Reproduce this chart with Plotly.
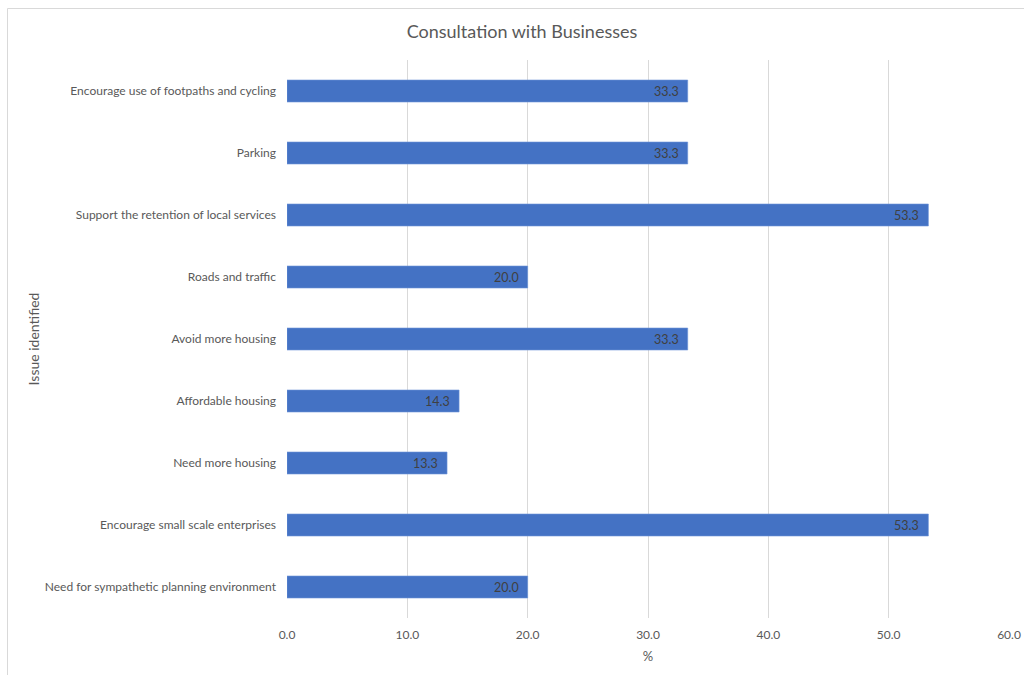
import plotly.graph_objects as go

# Issues raised during the business consultation (bottom to top)
issues = [
    "Need for sympathetic planning environment",
    "Encourage small scale enterprises",
    "Need more housing",
    "Affordable housing",
    "Avoid more housing",
    "Roads and traffic",
    "Support the retention of local services",
    "Parking",
    "Encourage use of footpaths and cycling",
]
percent = [20.0, 53.3, 13.3, 14.3, 33.3, 20.0, 53.3, 33.3, 33.3]

FONT = "Lato, 'Open Sans', sans-serif"
GREY = "#595959"

fig = go.Figure(
    go.Bar(
        x=percent,
        y=issues,
        orientation="h",
        width=0.355,
        marker=dict(color="#4472C4", line=dict(color="#6F95D8", width=0.6)),
        hoverinfo="skip",
    )
)

# Value labels sitting inside the end of each bar
for issue, v in zip(issues, percent):
    fig.add_annotation(
        x=v, y=issue, xref="x", yref="y",
        text=f"{v:.1f}", showarrow=False,
        xanchor="right", yanchor="middle", xshift=-7,
        font=dict(family=FONT, size=12.5, color="#404040"),
    )

# Outer chart frame (top and left edges)
L, R, T, B = 287, 1009, 60, 618
W, H = R - L, B - T


def px_x(p):
    return (p - L) / W


def px_y(p):
    return (B - p) / H


fig.add_shape(type="line", xref="paper", yref="paper",
              x0=px_x(7.5), x1=px_x(1024), y0=px_y(8.5), y1=px_y(8.5),
              line=dict(color="#D9D9D9", width=1))
fig.add_shape(type="line", xref="paper", yref="paper",
              x0=px_x(7.5), x1=px_x(7.5), y0=px_y(8.5), y1=px_y(675),
              line=dict(color="#D9D9D9", width=1))

fig.update_layout(
    width=1024,
    height=675,
    autosize=False,
    margin=dict(l=L, r=1024 - R, t=T, b=675 - B, pad=0, autoexpand=False),
    paper_bgcolor="white",
    plot_bgcolor="white",
    showlegend=False,
    font=dict(family=FONT, size=12, color=GREY),
    title=dict(
        text="Consultation with Businesses",
        x=px_x(522), xref="paper", xanchor="center",
        y=1 - 32 / 675, yanchor="middle",
        font=dict(family=FONT, size=18, color=GREY),
    ),
    bargap=0.645,
)

fig.update_xaxes(
    automargin=False,
    range=[0, 60],
    tickvals=[0, 10, 20, 30, 40, 50, 60],
    ticktext=["0.0", "10.0", "20.0", "30.0", "40.0", "50.0", "60.0"],
    showgrid=True,
    gridcolor="#D9D9D9",
    gridwidth=1,
    zeroline=False,
    showline=False,
    ticks="",
    ticklabelstandoff=8,
    tickfont=dict(family=FONT, size=12, color=GREY),
    title=dict(text="%", font=dict(family=FONT, size=13, color=GREY), standoff=10),
)

fig.update_yaxes(
    automargin=False,
    categoryorder="array",
    categoryarray=issues,
    range=[-0.5, 8.5],
    showgrid=False,
    zeroline=False,
    showline=False,
    ticks="",
    ticklabelstandoff=10,
    tickfont=dict(family=FONT, size=12, color=GREY),
    title=dict(text="Issue identified", font=dict(family=FONT, size=14, color=GREY),
               standoff=1),
)

fig.write_html("out.html")
